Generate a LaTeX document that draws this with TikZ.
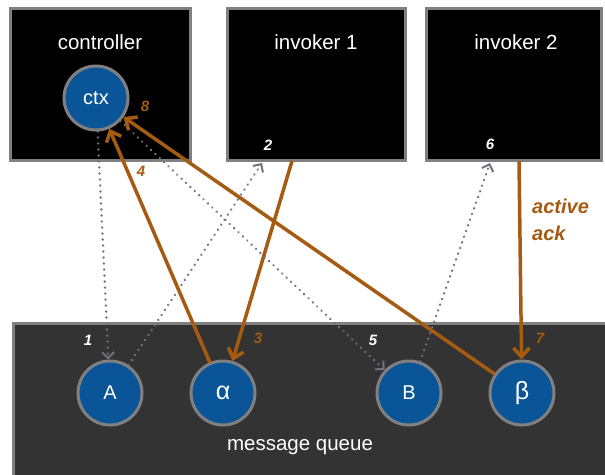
\documentclass[tikz,border=0pt]{standalone}
\usepackage{fontspec}
\setmainfont{Liberation Sans}
\usetikzlibrary{arrows.meta}
\definecolor{ora}{RGB}{165,92,18}
\definecolor{qblue}{RGB}{10,84,152}
\definecolor{bord}{RGB}{128,128,128}
\definecolor{qgray}{RGB}{51,51,51}
\definecolor{dotg}{RGB}{110,115,125}
\tikzset{
  box/.style={draw=bord,line width=3pt,fill=black,inner sep=0pt,outer sep=0pt},
  title/.style={text=white,font=\fontsize{20.5}{24}\selectfont},
  circ/.style={circle,draw=bord,line width=3pt,fill=qblue,minimum size=64pt,inner sep=0pt,text=white,font=\fontsize{20}{24}\selectfont},
  greek/.style={font=\fontsize{25}{28}\selectfont},
  num/.style={font=\fontsize{15}{17}\selectfont\bfseries\itshape},
  wnum/.style={num,text=white},
  onum/.style={num,text=ora},
  oarr/.style={draw=ora,line width=3.5pt,-{Straight Barb[length=9pt,width=16pt,line width=3.5pt]}},
  darr/.style={draw=dotg,line width=2.6pt,dash pattern=on 0.01pt off 6pt,line cap=round,-{Straight Barb[length=6pt,width=12pt,line width=2pt]}}
}
\begin{document}
\begin{tikzpicture}[x=1pt,y=-1pt]
\useasboundingbox (0,0) rectangle (605,474);
\fill[white] (0,0) rectangle (605,474);
% boxes
\node[box,minimum width=180pt,minimum height=152pt] (ctrl) at (100,84) {};
\node[box,minimum width=178pt,minimum height=152pt] (inv1) at (316,84) {};
\node[box,minimum width=175pt,minimum height=152pt] (inv2) at (514,84) {};
\node[box,fill=qgray,minimum width=610pt,minimum height=170pt,anchor=north west] (mq) at (13,323) {};
\node[title] (tctrl) at (100,42) {controller};
\node[title] (tinv1) at (316,42) {invoker 1};
\node[title] (tinv2) at (516,42) {invoker 2};
\node[title] (tmq) at (300,447) {message queue};
% circles
\node[circ] (ctx) at (96,98) {ctx};
\node[circ] (A) at (110,393) {A};
\node[circ,greek] (al) at (223,393) {α};
\node[circ] (B) at (409,393) {B};
\node[circ,greek] (be) at (522,393) {β};
% connector ends
\coordinate (t2) at (262,163);
\coordinate (s3) at (292,161);
\coordinate (t6) at (490,163);
\coordinate (s7) at (519,161);
% connectors
\draw[darr] (ctx) -- (A);
\draw[darr] (A) -- (t2);
\draw[oarr] (s3) -- (al);
\draw[oarr] (al) -- (ctx);
\draw[darr] (ctx) -- (B);
\draw[darr] (B) -- (t6);
\draw[oarr] (s7) -- (be);
\draw[oarr] (be) -- (ctx);
% labels
\node[wnum] (n1) at (88,340) {1};
\node[wnum] (n2) at (268,145) {2};
\node[onum] (n3) at (258,338) {3};
\node[onum] (n4) at (141,171) {4};
\node[wnum] (n5) at (373,340) {5};
\node[wnum] (n6) at (490,144) {6};
\node[onum] (n7) at (540,338) {7};
\node[onum] (n8) at (145,106) {8};
\node[anchor=north west,align=left,text=ora,inner sep=0pt,font=\fontsize{20}{27}\selectfont\bfseries\itshape] (ack) at (532,199) {active\\ack};
\end{tikzpicture}
\end{document}
